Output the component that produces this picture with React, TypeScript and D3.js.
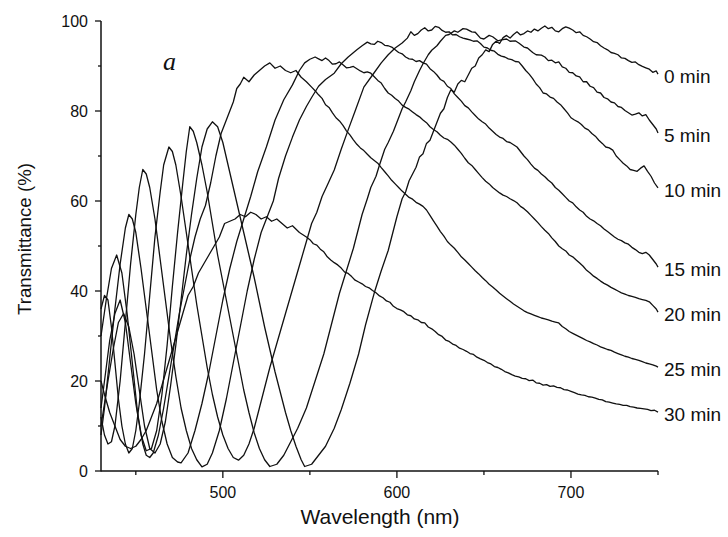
import React from 'react';
import * as d3 from 'd3';

type P = [number, number];

const seriesLabels = ['0 min', '5 min', '10 min', '15 min', '20 min', '25 min', '30 min'];

const t0: P[] = [[430,10],[432,15],[434,20],[437,27],[440,33],[443,35],[446,32],[449,26],[452,18],[455,10],[458,5],[461,4],[464,6],[467,11],[470,19],[473,28],[476,38],[479,48],[482,57],[485,65],[488,72],[491,76],[494,77.6],[497,76.5],[500,73],[503,68],[506,63],[509,58],[512,53],[515,48],[518,43],[521,37.5],[524,32],[527,27],[530,22],[533,17.5],[536,13],[539,9],[542,5.5],[545,2.5],[547,1],[551,1.5],[555,3.5],[559,5.5],[564,9.5],[568,13.6],[573,19.5],[578,26],[582,32.5],[587,39.6],[591,44.5],[595,49],
[600,56.5],[603,60.5],[605,62],[607,64.5],[609,66],[611,67.5],[613,69.8],[615,70.5],[617,72.8],[619,73.5],[621,75.5],[623,77.5],[625,79.5],[627,80.5],[629,83],[631,84.7],[633,84.2],[635,86],[637,86.8],[639,86.5],[641,88],[643,89.5],[645,90],[647,91.8],[649,92.5],[651,93.6],[653,93.2],[655,94.8],[657,95.5],[659,95],[661,96.3],[663,96.8],[665,96.2],[667,97],[669,97.6],[671,96.9],[673,97.2],[675,97.8],[677,97.5],[679,98.2],[681,97.8],[683,98.4],[685,98.9],[687,98.3],[689,98.6],[691,97.8],[693,97.6],[695,98.3],[697,98.7],[699,98.4],[701,98],[703,97.4],[705,97.6],[707,96.8],[709,96.5],[711,96],[713,95.4],[715,95.2],[717,94.5],[719,94],[721,93.6],[723,93],[725,92.8],[727,92.5],[729,91.8],[731,91.7],[733,91.2],[735,90.8],[737,90.9],[739,90.3],[741,89.9],[743,89.6],[745,89.3],[747,88.6],[749,88.9],[750,88.2]];

const t5: P[] = [[430,14],[432,20],[435,29],[438,35],[441,38],[444,33],[447,24],[450,15],[453,8],[456,4.5],[459,5],[462,9],[465,17],[468,28],[471,41],[474,53],[477,64],[479,71],[481,76.5],[483,75.5],[485,73],[488,68],[491,62],[494,55],[497,48],[500,42],[503,36],[506,30],[509,24],[512,18],[515,13],[518,8.5],[521,5],[524,2.5],[527,1],[531,1.5],[535,3.5],[539,6.5],[543,9.5],[548,14],[553,20],[558,26],[562,32],[567,39.5],[571,44.5],[575,49.5],
[580,57],[583,60.5],[585,63],[588,65.5],[590,68],[593,71.5],[595,73],[598,75.5],[600,77.5],[603,80.5],[605,82],[608,84.5],[610,86.5],[613,89],[615,90.5],[618,92.5],[620,93.5],[623,94.5],[625,95.5],[628,96.8],[630,97],[633,97.8],[635,97.5],[638,98.3],[640,98.2],[643,97.6],[645,97.5],[648,96.2],[650,96],[653,96.8],[655,96.5],[658,95.6],[660,95.8],[663,96],[665,95.5],[668,95.6],[670,95.1],[673,94.2],[675,94],[678,93],[680,92.5],[683,92.4],[685,92],[687,91.2],[689,91.3],[691,90.7],[693,90.9],[695,89.8],[697,89.5],[699,88.6],[701,88.5],[703,87.8],[705,87.6],[707,86.5],[709,86.5],[711,85.5],[713,85.2],[715,84.2],[717,84],[719,83],[721,82.7],[723,82],[725,81.8],[727,81],[729,80.8],[731,80.1],[733,79.6],[735,79.1],[737,79.3],[739,79.6],[741,78.9],[743,79.2],[745,78],[747,77],[749,76],[750,75.1]];

const t10: P[] = [[430,36],[432,39],[434,38],[436,32],[438,24],[440,16],[442,10],[444,6],[446,4],[448,5],[450,9],[452,15],[455,26],[458,39],[461,52],[464,62],[466,68],[469,72],[471,71],[473,68],[476,61],[479,53],[482,45],[485,37],[488,30],[491,23],[494,17],[497,12],[500,8],[503,5],[506,3],[509,2.4],[512,3.5],[515,6],[518,9.5],[521,14],[524,18.5],[527,23],[530,27],[533,31],[536,35],[539,39],[542,43],[545,47],[548,51],[551,55],[554,57.5],[557,61],[560,63.5],[564,66.9],[568,71.5],[572,75.8],[576,80],[581,85.3],[586,88],[591,90.7],[595,92.5],[599,94],
[603,95.1],[606,96.2],[608,97.6],[610,96.8],[612,97.2],[614,98],[616,98.5],[618,97.8],[620,98],[622,98.8],[624,98.6],[626,97.9],[628,97.5],[630,97.6],[632,96.9],[634,97],[636,96.5],[638,96.2],[640,96],[642,95.8],[644,95.5],[646,95.6],[648,95],[650,94.2],[652,94],[654,93.5],[656,93.3],[658,92.6],[660,92.2],[662,92],[664,91.6],[666,91.4],[668,91],[670,90.9],[672,90],[674,89],[676,88.2],[678,87.2],[680,86],[682,85.2],[684,84],[686,83.8],[688,83.1],[690,82.8],[692,82],[694,81.4],[696,80.5],[698,79.6],[700,78.5],[702,78],[704,77.6],[706,77],[708,76.2],[710,75.8],[712,75],[714,74.4],[716,73.5],[718,72.8],[720,72],[722,71.8],[724,71.3],[726,70],[728,69.2],[730,68.4],[732,67.8],[734,67],[736,66.8],[738,66.6],[740,67.3],[742,67.8],[744,66.6],[746,65.5],[748,64],[750,62.9]];

const t15: P[] = [[430,12],[432,8],[434,6],[436,6.5],[438,10],[441,20],[444,33],[447,46],[450,57],[452,63],[454,67],[456,66],[458,63],[461,56],[464,47],[467,38],[470,29],[473,21],[476,14],[479,9],[482,5],[485,2.5],[488,0.9],[491,1.5],[494,4],[498,9],[502,16],[506,24],[510,32],[514,40],[518,47],[522,53],[526,57],[529,60],[532,65],[536,70],[540,74.2],[544,78],[548,81],[551,83],[555,85.5],[559,87],[564,88.4],[568,90.5],[572,92],
[577,93.6],[580,94.5],[583,95.3],[585,94.9],[587,94.8],[589,95.5],[591,95.2],[593,94.6],[595,94.5],[597,94.2],[599,93.6],[601,93],[603,92.7],[605,92],[607,91.6],[609,91.5],[611,91],[613,91.2],[615,90.7],[617,90.4],[619,89.4],[621,88.8],[623,88],[625,87],[627,86.6],[629,85.5],[631,85],[633,83.8],[635,83],[637,82.2],[639,81.2],[641,80.7],[643,79.8],[645,79],[647,78.2],[649,77.6],[651,77.1],[653,76.2],[655,75.5],[657,74.8],[659,74.2],[661,73.9],[663,73.2],[665,73],[667,72.5],[669,72],[671,71],[673,70],[675,69.2],[677,68.2],[679,67.3],[681,66.8],[683,66],[685,65.4],[687,64.6],[689,64],[691,63],[693,62.4],[695,61.6],[697,60.8],[699,60],[701,59.6],[703,58.7],[705,58],[707,57.5],[709,56.6],[711,56],[713,55.6],[715,55],[717,54.5],[719,53.8],[721,53.2],[723,52.6],[725,52],[727,51.5],[729,51.2],[731,50.7],[733,50.4],[735,49.7],[737,49.2],[739,48.6],[741,48.3],[743,48.6],[745,48],[747,47],[749,46],[750,45.3]];

const t20: P[] = [[430,8],[432,14],[435,25],[438,36],[441,46],[444,54],[446,57],[448,56],[450,53],[453,45],[456,36],[459,27],[462,18],[465,11],[468,6],[471,3],[474,2],[476,1.8],[480,4],[484,9],[488,15],[492,22],[496,30],[500,38],[504,45],[508,51],[512,56],[516,61],[520,66.5],[525,72],[530,78],[535,82.5],[540,85.8],[544,89],[547,90.7],[550,91.5],
[553,92],[555,91.6],[557,91.2],[559,91.8],[561,91.2],[563,90.4],[565,90.5],[567,90.9],[569,90.3],[571,89.6],[573,89.7],[575,89.9],[577,89.4],[579,88.9],[581,88.5],[583,88.7],[585,88.4],[587,87.6],[589,86.8],[591,86.2],[593,85],[595,84],[597,83.5],[599,82.8],[601,82.2],[603,81.3],[605,80.8],[607,80.4],[609,79.8],[611,79.2],[613,78.7],[615,78],[617,77.4],[619,76.5],[621,75.9],[623,75.4],[625,74.6],[627,74],[629,73.7],[631,73.1],[633,72.4],[635,71.5],[637,70.6],[639,69.5],[641,68.5],[643,67.9],[645,67],[647,66.1],[649,65.2],[651,64.4],[653,63.8],[655,63],[657,62.4],[659,61.8],[661,61.3],[663,61],[665,60.5],[667,60.1],[669,59.6],[671,58.8],[673,58.3],[675,57.6],[677,56.8],[679,56],[681,55.2],[683,54.3],[685,53.5],[687,52.8],[689,51.8],[691,51],[693,50],[695,49.4],[697,48.9],[699,48],[701,47.6],[703,46.9],[705,46.2],[707,45.5],[709,44.6],[711,44],[713,43.3],[715,42.8],[717,42.2],[719,41.7],[721,41.3],[723,40.8],[725,40.4],[727,40],[729,39.6],[731,39.3],[733,39],[735,38.8],[737,38.6],[739,38.3],[741,38.1],[743,37.9],[745,37.6],[747,36.8],[749,36],[750,35.3]];

const t25: P[] = [[430,30],[433,38],[436,45],[439,48],[442,44],[445,35],[448,24],[451,13],[454,6],[456,3.5],[458,3],[460,4],[463,8],[466,14],[469,21],[472,28],[475,35],[478,41],[481,47],[484,52],[487,56],[490,59],[493,64],[496,70],[499,75],[502,78],[504,80],[506,82],[508,85],[510,86],[512,87.5],[515,86.5],[518,88],[521,89],[524,90],[527,90.7],[530,89.5],[533,90],[536,89],[539,88.5],[542,89],[545,87.5],[548,86.5],
[551,85.3],[553,84.5],[555,83.6],[557,82.8],[559,81.4],[561,80.8],[563,79.6],[565,78.5],[567,77.8],[569,76.8],[571,75.6],[573,74.7],[575,73.6],[577,72.6],[579,71.8],[581,71.2],[583,70.4],[585,69.6],[587,69],[589,68.4],[591,67.4],[593,66.5],[595,65.6],[597,64.6],[599,63.8],[601,63],[603,62.2],[605,61.5],[607,60.8],[609,60.4],[611,59.7],[613,59.3],[615,58.8],[617,58],[619,56.8],[621,55.6],[623,54.4],[625,53.2],[627,52.2],[629,51],[631,50.2],[633,49.5],[635,48.6],[637,47.6],[639,46.9],[641,46.1],[643,45.3],[645,44.5],[647,43.8],[649,43],[651,42.3],[653,41.5],[655,40.9],[657,40.2],[659,39.5],[661,38.9],[663,38.3],[665,37.7],[667,37.1],[669,36.6],[671,36.1],[673,35.6],[675,35.2],[677,34.9],[679,34.6],[681,34.3],[683,34],[685,33.8],[687,33.6],[689,33.3],[691,33.1],[693,32.9],[695,32.1],[697,31.6],[699,31],[701,30.6],[703,30.2],[705,29.8],[707,29.4],[709,29],[711,28.7],[713,28.3],[715,28],[717,27.6],[719,27.3],[721,27],[723,26.8],[725,26.4],[727,26.1],[729,25.8],[731,25.5],[733,25.3],[735,25],[737,24.8],[739,24.6],[741,24.3],[743,24],[745,23.8],[747,23.6],[749,23.3],[750,23.1]];

const t30: P[] = [[430,20],[432,17],[435,13],[438,10],[441,7],[444,5.5],[447,5],[450,5.5],[453,7],[456,9],[459,12],[462,15],[465,19],[468,23],[471,27],[474,31],[477,35],[480,39],[483,41],[486,44],[489,46],[492,48],[495,50],[498,52],[501,55],[504,55.5],[507,56],[510,57],[513,56.5],[516,57.5],[519,57],[522,56],[525,56.5],[528,55.5],[531,56],[534,55],[537,54],[540,54.5],[544,53],[548,52],
[550,51.4],[552,50.5],[554,50.2],[556,49.3],[558,48.7],[560,47.6],[562,46.9],[564,46.3],[566,45.8],[568,45.1],[570,44.2],[572,43.9],[574,43.2],[576,42.4],[578,42],[580,41.6],[582,41],[584,40.7],[586,40.1],[588,39.6],[590,38.9],[592,38.5],[594,37.8],[596,37.5],[598,36.6],[600,36.1],[602,35.8],[604,35.4],[606,34.7],[608,34.5],[610,33.8],[612,33.6],[614,33],[616,32.9],[618,32],[620,31.6],[622,31],[624,30.3],[626,29.9],[628,29.1],[630,28.8],[632,28.2],[634,27.9],[636,27.3],[638,27],[640,26.6],[642,26.1],[644,25.9],[646,25.3],[648,24.9],[650,24.6],[652,24.1],[654,23.8],[656,23.2],[658,23],[660,22.6],[662,22.1],[664,21.8],[666,21.4],[668,21.1],[670,20.9],[672,20.6],[674,20.5],[676,20.1],[678,20.2],[680,19.6],[682,19.5],[684,19.1],[686,19.2],[688,18.8],[690,18.9],[692,18.6],[694,18.5],[696,18.1],[698,18],[700,17.7],[702,17.4],[704,17.1],[706,16.9],[708,16.8],[710,16.5],[712,16.4],[714,16.2],[716,15.9],[718,15.8],[720,15.4],[722,15.3],[724,15.1],[726,14.9],[728,14.8],[730,14.6],[732,14.6],[734,14.3],[736,14.2],[738,14],[740,13.9],[742,13.8],[744,13.7],[746,13.4],[748,13.5],[750,13.1]];

const seriesData: P[][] = [t0, t5, t10, t15, t20, t25, t30];

const xMajorTicks = [500, 600, 700];
const xMinorTicks = [450, 550, 650, 750];
const yMajorTicks = [0, 20, 40, 60, 80, 100];
const yMinorTicks = [10, 30, 50, 70, 90];

export default function App() {
  const x = d3.scaleLinear().domain([430, 750]).range([101, 658]);
  const y = d3.scaleLinear().domain([0, 100]).range([471, 21]);
  const line = d3.line<P>().x(d => x(d[0])).y(d => y(d[1]));
  const sans = '"Liberation Sans", Arial, sans-serif';
  return (
    <svg width={728} height={537} style={{ position: 'absolute', left: 0, top: 0, background: '#fff' }}>
      <rect x={0} y={0} width={728} height={537} fill="#fff" />
      {seriesData.map((s, i) => (
        <path key={i} d={line(s) || ''} fill="none" stroke="#111" strokeWidth={1.3} strokeLinejoin="round" />
      ))}
      {seriesData.map((s, i) => {
        const last = s[s.length - 1];
        return (
          <text key={'l' + i} x={664} y={y(last[1]) + 9} fontFamily={sans} fontSize={19} fill="#111">
            {seriesLabels[i]}
          </text>
        );
      })}
      <line x1={101} x2={101} y1={y(100)} y2={y(0) + 0.5} stroke="#111" strokeWidth={1.5} />
      <line x1={x(430)} x2={x(750)} y1={471} y2={471} stroke="#111" strokeWidth={1.5} />
      {yMajorTicks.map(t => (
        <g key={'ym' + t}>
          <line x1={95} x2={101} y1={y(t)} y2={y(t)} stroke="#111" strokeWidth={1.3} />
          <text x={88} y={y(t) + 6} textAnchor="end" fontFamily={sans} fontSize={16} fill="#111">{t}</text>
        </g>
      ))}
      {yMinorTicks.map(t => (
        <line key={'yn' + t} x1={98} x2={101} y1={y(t)} y2={y(t)} stroke="#111" strokeWidth={1.3} />
      ))}
      {xMajorTicks.map(t => (
        <g key={'xm' + t}>
          <line x1={x(t)} x2={x(t)} y1={471} y2={478} stroke="#111" strokeWidth={1.3} />
          <text x={x(t)} y={498} textAnchor="middle" fontFamily={sans} fontSize={16} fill="#111">{t}</text>
        </g>
      ))}
      {xMinorTicks.map(t => (
        <line key={'xn' + t} x1={x(t)} x2={x(t)} y1={471} y2={475} stroke="#111" strokeWidth={1.3} />
      ))}
      <text x={380} y={524} textAnchor="middle" fontFamily={sans} fontSize={21} fill="#111">Wavelength (nm)</text>
      <text transform="translate(31,239) rotate(-90)" textAnchor="middle" fontFamily={sans} fontSize={18.7} fill="#111">Transmittance (%)</text>
      <text x={163} y={70} fontFamily='"Liberation Serif", "Times New Roman", serif' fontStyle="italic" fontSize={26} fill="#111">a</text>
    </svg>
  );
}
